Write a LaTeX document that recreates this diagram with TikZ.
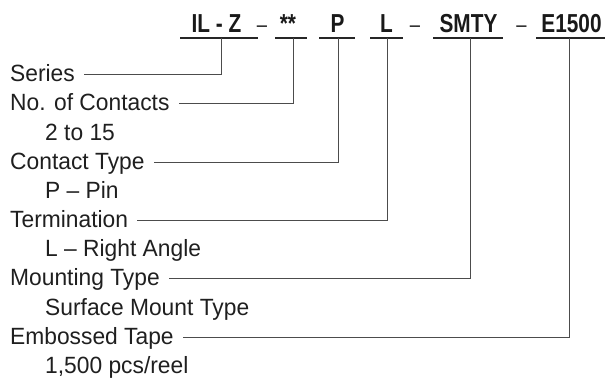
\documentclass[tikz,border=0pt]{standalone}
\usepackage{fontspec}
\setmainfont{Liberation Sans}
\usepackage{graphicx}
\newcommand{\lbtxt}[1]{\scalebox{0.97}[1]{#1}}
\newcommand{\cdtxt}[1]{\scalebox{0.8}[1]{#1}}
\begin{document}
\begin{tikzpicture}[x=1pt,y=-1pt,
  lbl/.style={anchor=base west, inner sep=0pt, font=\fontsize{23.5}{26}\selectfont, text=black!88},
  code/.style={anchor=base, inner sep=0pt, font=\fontsize{26}{28}\selectfont\bfseries, text=black!90},
  dsh/.style={anchor=base, inner sep=0pt, font=\fontsize{23}{26}\selectfont, text=black!85},
  uline/.style={line width=1.8pt, black!85},
  conn/.style={line width=0.9pt, black!70}]
\useasboundingbox (0,0) rectangle (605,378);

% part number
\node[code] (c1) at (216.4,32) {\cdtxt{IL - Z}};
\node[dsh]  (d1) at (262,32) {\cdtxt{–}};
\node[code] (c2) at (288,32) {\cdtxt{**}};
\node[code] (c3) at (337.5,32) {\cdtxt{P}};
\node[code] (c4) at (386.5,32) {\cdtxt{L}};
\node[dsh]  (d2) at (415,32) {\cdtxt{–}};
\node[code] (c5) at (468.5,32) {\cdtxt{SMTY}};
\node[dsh]  (d3) at (521.5,32) {\cdtxt{–}};
\node[code] (c6) at (571.5,32) {\cdtxt{E1500}};

% underlines
\draw[uline] (180,37.7) -- (258,37.7);
\draw[uline] (275,37.7) -- (307,37.7);
\draw[uline] (319,37.7) -- (355,37.7);
\draw[uline] (370,37.7) -- (403,37.7);
\draw[uline] (433,37.7) -- (503,37.7);
\draw[uline] (536,37.7) -- (605,37.7);

% connector tops
\coordinate (t1) at (221,38);
\coordinate (t2) at (293,38);
\coordinate (t3) at (338,38);
\coordinate (t4) at (387,38);
\coordinate (t5) at (470,38);
\coordinate (t6) at (569,38);

% labels
\node[lbl] (l1) at (10,81) {\lbtxt{Series}};
\node[lbl] (l2) at (10,110.5) {\lbtxt{No. of Contacts}};
\node[lbl] (s2) at (45,140) {\lbtxt{2 to 15}};
\node[lbl] (l3) at (10,169) {\lbtxt{Contact Type}};
\node[lbl] (s3) at (45,198) {\lbtxt{P – Pin}};
\node[lbl] (l4) at (10,227) {\lbtxt{Termination}};
\node[lbl] (s4) at (45,256) {\lbtxt{L – Right Angle}};
\node[lbl] (l5) at (10,285.5) {\lbtxt{Mounting Type}};
\node[lbl] (s5) at (45,315) {\lbtxt{Surface Mount Type}};
\node[lbl] (l6) at (10,344) {\lbtxt{Embossed Tape}};
\node[lbl] (s6) at (45,373) {\lbtxt{1,500 pcs/reel}};

% connectors
\draw[conn] (t1) |- ([xshift=9pt,yshift=7pt]l1.base east);
\draw[conn] (t2) |- ([xshift=9pt,yshift=7pt]l2.base east);
\draw[conn] (t3) |- ([xshift=9pt,yshift=7pt]l3.base east);
\draw[conn] (t4) |- ([xshift=9pt,yshift=7pt]l4.base east);
\draw[conn] (t5) |- ([xshift=9pt,yshift=7pt]l5.base east);
\draw[conn] (t6) |- ([xshift=9pt,yshift=7pt]l6.base east);
\end{tikzpicture}
\end{document}
